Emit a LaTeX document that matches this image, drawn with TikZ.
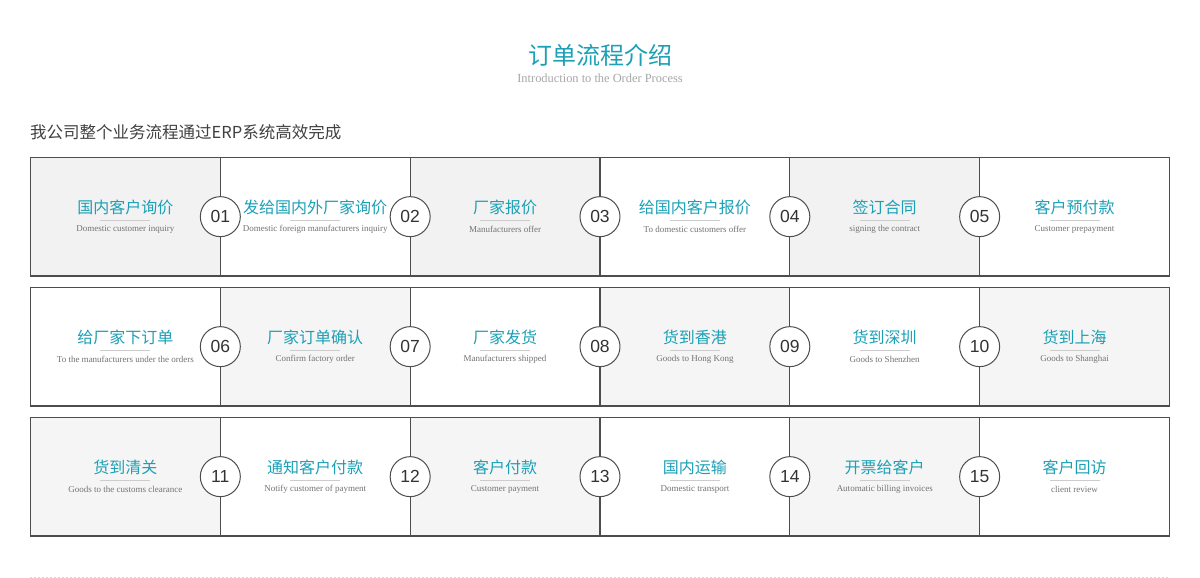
\documentclass[tikz,border=0pt]{standalone}
\usepackage{fontspec}
\setmainfont{Liberation Serif}
\newfontfamily\cjk{Noto Sans CJK SC}
\newfontfamily\numfont{Liberation Sans}
\definecolor{headteal}{RGB}{28,160,182}
\definecolor{framegray}{HTML}{4D4D4D}
\definecolor{shadeone}{HTML}{F2F2F2}
\definecolor{shadetwo}{HTML}{F5F5F5}

\begin{document}
\begin{tikzpicture}[
      x=1pt,
      y=-1pt,
      cell/.style={
        anchor=north west,
        minimum width=189.83pt,
        minimum height=118.7pt,
        inner sep=0pt,
        outer sep=0pt
      },
      frame/.style={
        draw=framegray,
        line width=1.2pt
      },
      shadeA/.style={fill=shadeone},
      shadeB/.style={fill=shadetwo},
      plain/.style={fill=white},
      zhtext/.style={
        inner sep=0pt,
        text=headteal,
        font=\cjk\fontsize{16}{16}\selectfont
      },
      entext/.style={
        inner sep=0pt,
        text=black!55,
        font=\fontsize{9}{9}\selectfont
      },
      rule/.style={
        fill=black!20,
        inner sep=0pt,
        minimum width=50pt,
        minimum height=0.8pt
      },
      stepnum/.style={
        circle,
        draw=framegray,
        line width=1pt,
        fill=white,
        minimum size=40pt,
        inner sep=0pt,
        text=black!80,
        font=\numfont\fontsize{17.5}{17.5}\selectfont
      }
    ]
      \useasboundingbox (0,0) rectangle (1200,578);

      \node[text=headteal,font=\cjk\fontsize{24}{24}\selectfont,inner sep=0pt] (title) at (600,55.5) {订单流程介绍};
      \node[text=black!35,font=\fontsize{12.4}{12.4}\selectfont,inner sep=0pt] (subtitle) at (600,78) {Introduction to the Order Process};
      \node[text=black!75,font=\cjk\fontsize{16.5}{16.5}\selectfont,inner sep=0pt,anchor=west] (intro) at (30,132.5) {我公司整个业务流程通过ERP系统高效完成};

      \foreach \i/\j/\f/\zh/\en in {
          1/1/shadeA/国内客户询价/Domestic customer inquiry,
          1/2/plain/发给国内外厂家询价/Domestic foreign manufacturers inquiry,
          1/3/shadeA/厂家报价/Manufacturers offer,
          1/4/plain/给国内客户报价/To domestic customers offer,
          1/5/shadeA/签订合同/signing the contract,
          1/6/plain/客户预付款/Customer prepayment,
          2/1/plain/给厂家下订单/To the manufacturers under the orders,
          2/2/shadeB/厂家订单确认/Confirm factory order,
          2/3/plain/厂家发货/Manufacturers shipped,
          2/4/shadeB/货到香港/Goods to Hong Kong,
          2/5/plain/货到深圳/Goods to Shenzhen,
          2/6/shadeB/货到上海/Goods to Shanghai,
          3/1/shadeB/货到清关/Goods to the customs clearance,
          3/2/plain/通知客户付款/Notify customer of payment,
          3/3/shadeB/客户付款/Customer payment,
          3/4/plain/国内运输/Domestic transport,
          3/5/shadeB/开票给客户/Automatic billing invoices,
          3/6/plain/客户回访/client review}
      {
        \pgfmathsetmacro\cx{30.5+(\j-1)*189.83}
        \pgfmathsetmacro\cy{157.3+(\i-1)*130}
        \node[cell,\f] (cell-\i-\j) at (\cx,\cy) {};
        \node[zhtext] (zh-\i-\j) at ([yshift=9.5pt]cell-\i-\j.center) {\zh};
        \node[rule] (rule-\i-\j) at ([yshift=-4pt]cell-\i-\j.center) {};
        \node[entext] (en-\i-\j) at ([yshift=-12.7pt]cell-\i-\j.center) {\en};
      }

      \foreach \i in {1,2,3}
        \foreach \j in {1,...,6}
          \draw[frame] (cell-\i-\j.north west) rectangle (cell-\i-\j.south east);

      \foreach \n/\i/\j in {01/1/1,02/1/2,03/1/3,04/1/4,05/1/5,
                            06/2/1,07/2/2,08/2/3,09/2/4,10/2/5,
                            11/3/1,12/3/2,13/3/3,14/3/4,15/3/5}
        \node[stepnum] (num-\n) at (cell-\i-\j.east) {\n};

      \coordinate (dash-l) at (30,577);
      \coordinate (dash-r) at (1169,577);
      \draw[black!15,line width=1pt,dash pattern=on 2pt off 2pt] (dash-l) -- (dash-r);
    \end{tikzpicture}
\end{document}
